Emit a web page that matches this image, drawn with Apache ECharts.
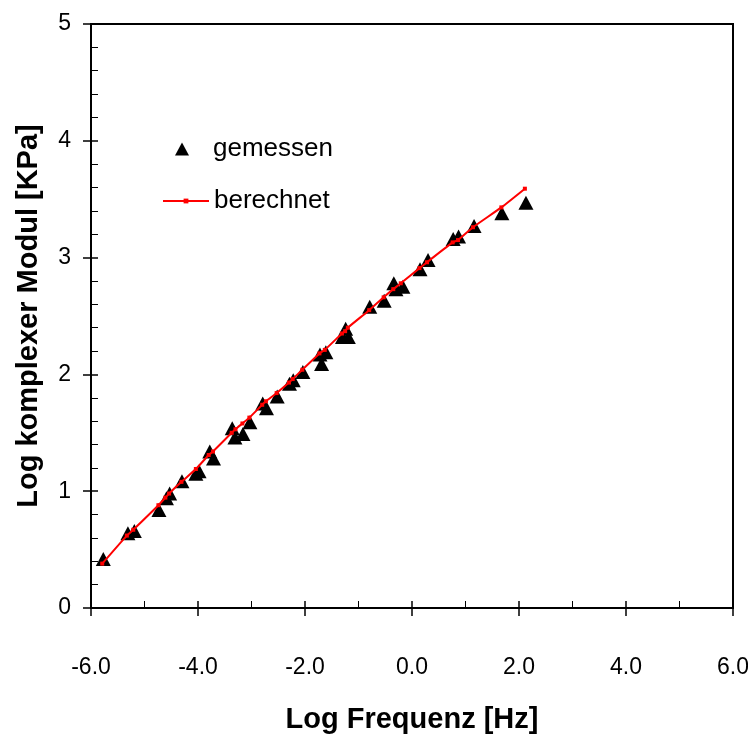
<!DOCTYPE html>
<html>
<head>
<meta charset="utf-8">
<script src="https://cdn.jsdelivr.net/npm/echarts@6/dist/echarts.min.js"></script>
<style>
  html, body { margin: 0; padding: 0; background: #fff; }
  #chart { width: 748px; height: 736px; }
</style>
</head>
<body>
<div id="chart"></div>
<script>
// Measured complex modulus (log) vs. log frequency
const freqMeasured = [-5.77, -5.31, -5.19, -4.73, -4.59, -4.53, -4.30, -4.04, -3.98, -3.78, -3.71,
  -3.36, -3.31, -3.16, -3.03, -2.79, -2.72, -2.52, -2.29, -2.22, -2.04, -1.72, -1.69, -1.61,
  -1.30, -1.24, -1.19, -0.79, -0.52, -0.34, -0.30, -0.17, 0.15, 0.30, 0.77, 0.87, 1.16, 1.68, 2.13];
const modMeasured = [0.42, 0.64, 0.66, 0.84, 0.94, 0.98, 1.085, 1.15, 1.17, 1.34, 1.28,
  1.54, 1.46, 1.49, 1.59, 1.75, 1.71, 1.81, 1.92, 1.95, 2.02, 2.17, 2.09, 2.19,
  2.32, 2.39, 2.32, 2.58, 2.63, 2.78, 2.73, 2.75, 2.90, 2.98, 3.16, 3.18, 3.27, 3.38, 3.47];

// Calculated model curve
const freqCalc = [-5.79, -5.33, -5.21, -4.74, -4.61, -4.54, -4.31, -4.04, -3.80, -3.72, -3.37,
  -3.30, -3.17, -3.04, -2.80, -2.73, -2.53, -2.30, -2.23, -2.05, -1.73, -1.63, -1.31, -1.25,
  -1.20, -0.80, -0.53, -0.35, -0.21, 0.14, 0.28, 0.76, 0.86, 1.14, 1.67, 2.11];
const modCalc = [0.38, 0.62, 0.67, 0.88, 0.945, 0.98, 1.08, 1.19, 1.31, 1.34, 1.50,
  1.53, 1.58, 1.63, 1.74, 1.77, 1.84, 1.93, 1.96, 2.04, 2.18, 2.21, 2.35, 2.37,
  2.40, 2.55, 2.66, 2.73, 2.78, 2.91, 2.96, 3.13, 3.15, 3.26, 3.43, 3.59];

const seriesNames = ['gemessen', 'berechnet'];
const xTitle = 'Log Frequenz [Hz]';
const yTitle = 'Log komplexer Modul [KPa]';

const tickFont = "'Liberation Sans Narrow', 'Arial Narrow', 'Liberation Sans', Arial, sans-serif";
const textFont = "'Liberation Sans', Arial, sans-serif";

const measuredPts = freqMeasured.map((f, i) => [f, modMeasured[i]]);
const calcPts = freqCalc.map((f, i) => [f, modCalc[i]]);

const chart = echarts.init(document.getElementById('chart'), null, { renderer: 'canvas' });

const baseX = { type: 'value', min: -6, max: 6, interval: 2, position: 'bottom', gridIndex: 0 };
const baseY = { type: 'value', min: 0, max: 5, interval: 1, position: 'left', gridIndex: 0 };

chart.setOption({
  backgroundColor: '#fff',
  animation: false,
  grid: {
    left: 91, right: 15, top: 24, bottom: 128,
    outerBoundsMode: 'none', containLabel: false,
    show: true, borderColor: '#000', borderWidth: 2, backgroundColor: 'transparent'
  },
  legend: [
    {
      data: [seriesNames[0]],
      orient: 'vertical',
      left: 170, top: 131,
      itemWidth: 14, itemHeight: 13,
      icon: 'triangle',
      itemStyle: { color: '#000', opacity: 1 },
      formatter: n => '{t|' + n + '}',
      textStyle: { color: '#000', fontFamily: textFont, fontSize: 26,
        rich: { t: { fontFamily: textFont, fontSize: 26, color: '#000', padding: [0, 0, 0, 19] } } }
    },
    {
      data: [seriesNames[1]],
      orient: 'vertical',
      left: 157, top: 183,
      itemWidth: 46, itemHeight: 6,
      textStyle: { color: '#000', fontFamily: textFont, fontSize: 26 }
    }
  ],
  xAxis: [
    Object.assign({}, baseX, {
      name: xTitle, nameLocation: 'middle', nameGap: 97,
      nameTextStyle: { fontFamily: textFont, fontSize: 29, fontWeight: 'bold', color: '#000', verticalAlign: 'top' },
      axisLine: { show: true, onZero: false, lineStyle: { color: '#000', width: 2 } },
      axisTick: { show: true, inside: false, length: 8, lineStyle: { color: '#000', width: 1.5 } },
      minorTick: { show: false },
      splitLine: { show: false },
      axisLabel: { margin: 48, color: '#000', fontFamily: tickFont, fontSize: 23, formatter: v => v.toFixed(1) }
    }),
    Object.assign({}, baseX, {
      axisLine: { show: false, onZero: false },
      axisTick: { show: true, inside: true, length: 7, lineStyle: { color: '#000', width: 1.5 } },
      minorTick: { show: true, splitNumber: 2, length: 7, lineStyle: { color: '#000', width: 1 } },
      splitLine: { show: false },
      axisLabel: { show: false }
    })
  ],
  yAxis: [
    Object.assign({}, baseY, {
      name: yTitle, nameLocation: 'middle', nameGap: 48,
      nameTextStyle: { fontFamily: textFont, fontSize: 29, fontWeight: 'bold', color: '#000' },
      axisLine: { show: true, onZero: false, lineStyle: { color: '#000', width: 2 } },
      axisTick: { show: true, inside: false, length: 8, lineStyle: { color: '#000', width: 1.5 } },
      minorTick: { show: false },
      splitLine: { show: false },
      axisLabel: { margin: 20, color: '#000', fontFamily: tickFont, fontSize: 23 }
    }),
    Object.assign({}, baseY, {
      axisLine: { show: false, onZero: false },
      axisTick: { show: true, inside: true, length: 7, lineStyle: { color: '#000', width: 1.5 } },
      minorTick: { show: true, splitNumber: 5, length: 7, lineStyle: { color: '#000', width: 1 } },
      splitLine: { show: false },
      axisLabel: { show: false }
    })
  ],
  series: [
    {
      name: seriesNames[0],
      type: 'scatter',
      xAxisIndex: 0, yAxisIndex: 0,
      data: measuredPts,
      symbol: 'triangle',
      symbolSize: [15, 14],
      itemStyle: { color: '#000', opacity: 1 },
      z: 2
    },
    {
      name: seriesNames[1],
      type: 'line',
      xAxisIndex: 0, yAxisIndex: 0,
      data: calcPts,
      smooth: 0.2,
      symbol: 'rect',
      symbolSize: 4,
      showAllSymbol: true,
      lineStyle: { color: '#ff0000', width: 2 },
      itemStyle: { color: '#ff0000' },
      z: 3
    }
  ]
});
</script>
</body>
</html>
